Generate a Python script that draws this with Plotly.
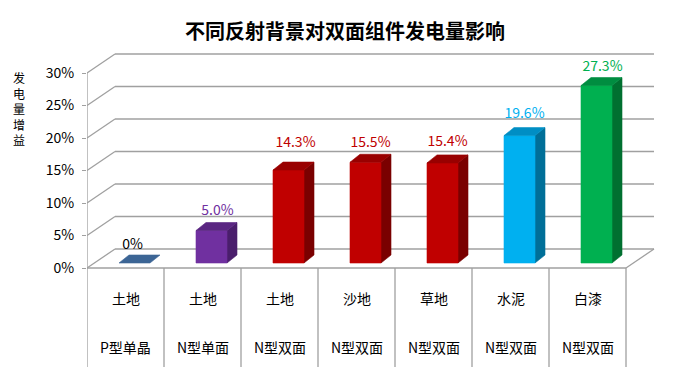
import plotly.graph_objects as go

# ---- data ----
title_text = "不同反射背景对双面组件发电量影响"
y_title_chars = ["发", "电", "量", "增", "益"]
backgrounds = ["土地", "土地", "土地", "沙地", "草地", "水泥", "白漆"]
module_types = ["P型单晶", "N型单面", "N型双面", "N型双面", "N型双面", "N型双面", "N型双面"]
gains = [0.0, 5.0, 14.3, 15.5, 15.4, 19.6, 27.3]
value_labels = ["0%", "5.0%", "14.3%", "15.5%", "15.4%", "19.6%", "27.3%"]
label_colors = ["#000000", "#7030a0", "#c00000", "#c00000", "#c00000", "#00b0f0", "#00b050"]
front_colors = ["#3c6595", "#7030a0", "#c00000", "#c00000", "#c00000", "#00b0f0", "#00b050"]
top_colors = ["#3c6595", "#5a2682", "#990000", "#990000", "#990000", "#008ec4", "#008d40"]
side_colors = ["#2c4c72", "#4a1e6c", "#7a0000", "#7a0000", "#7a0000", "#006f98", "#007030"]
y_ticks = [0, 5, 10, 15, 20, 25, 30]
y_tick_text = ["0%", "5%", "10%", "15%", "20%", "25%", "30%"]

# ---- layout / style settings ----
label_nudge_x_px = [-7, 1, 2, 0, 0, 0, 1]       # value-label horizontal nudges
label_nudge_y_px = [10, 11.5, 19, 11, 12, 13.6, 10.5]  # value-label height above bar top

W, H = 690, 387
ML, MR, MT, MB = 87, 33, 50, 15
PX_X = 77.0    # px per category
PX_Y = 6.5     # px per percent
plot_w = W - ML - MR
plot_h = H - MT - MB
zero_from_top = 218.0
y_max = zero_from_top / PX_Y
y_min = -(plot_h - zero_from_top) / PX_Y
x_max = plot_w / PX_X

n = len(gains)
DX = 28 / PX_X          # depth offset of back wall
DY = 19 / PX_Y
SX, SY = 9 / PX_X, 5 / PX_Y      # bar front-face shift
BDX, BDY = 10 / PX_X, 8 / PX_Y   # bar depth
BW = 31 / PX_X
TABLE_BOTTOM = -99 / PX_Y

GRID = "#a0a0a0"
FONT = "Microsoft YaHei, Noto Sans CJK SC, sans-serif"

fig = go.Figure()

# back wall + side wall grid lines
gx, gy = [], []
for v in y_ticks:
    gx += [DX, n + DX, None, 0, DX, None]
    gy += [v + DY, v + DY, None, v, v + DY, None]
gx += [n, n + DX, None]
gy += [0, DY, None]
fig.add_trace(go.Scatter(x=gx, y=gy, mode="lines", line=dict(color=GRID, width=1.3),
                         hoverinfo="skip", showlegend=False))

# category table lines + front value axis line
tx, ty = [0, n, None], [0, 0, None]
for i in range(n + 1):
    tx += [i, i, None]
    ty += [0, TABLE_BOTTOM, None]
tx += [0, 0]
ty += [0, y_ticks[-1]]
fig.add_trace(go.Scatter(x=tx, y=ty, mode="lines", line=dict(color=GRID, width=1.3),
                         hoverinfo="skip", showlegend=False))


def poly(xs, ys, color):
    fig.add_trace(go.Scatter(x=xs + [xs[0]], y=ys + [ys[0]], mode="lines", fill="toself",
                             fillcolor=color, line=dict(color=color, width=0.6),
                             hoverinfo="skip", showlegend=False))


# 3D-like bars
for i, v in enumerate(gains):
    x0 = i + 0.5 - BW / 2 + SX
    x1 = x0 + BW
    yb = SY
    yt = v + SY
    if v > 0:
        poly([x1, x1 + BDX, x1 + BDX, x1], [yb, yb + BDY, yt + BDY, yt], side_colors[i])
        poly([x0, x1, x1, x0], [yb, yb, yt, yt], front_colors[i])
    poly([x0, x1, x1 + BDX, x0 + BDX], [yt, yt, yt + BDY, yt + BDY], top_colors[i])

# value labels
for i, v in enumerate(gains):
    fig.add_trace(go.Scatter(
        x=[i + 0.5 + SX + BDX / 2 + label_nudge_x_px[i] / PX_X],
        y=[v + SY + BDY + label_nudge_y_px[i] / PX_Y], mode="text",
        text=[value_labels[i]], textposition="middle center",
        textfont=dict(size=14, color=label_colors[i], family=FONT),
        hoverinfo="skip", showlegend=False))

annotations = []
for i in range(n):
    annotations.append(dict(x=i + 0.5, y=-30 / PX_Y, xref="x", yref="y", text=backgrounds[i],
                            showarrow=False, font=dict(size=14, color="#000", family=FONT)))
    annotations.append(dict(x=i + 0.5, y=-79 / PX_Y, xref="x", yref="y", text=module_types[i],
                            showarrow=False, font=dict(size=14, color="#000", family=FONT)))
# vertical y-axis title, stacked characters
annotations.append(dict(x=(19 - ML) / plot_w, y=(H - MB - 109) / plot_h,
                        xref="paper", yref="paper", xanchor="center", yanchor="middle",
                        text="<br>".join(y_title_chars), showarrow=False,
                        font=dict(size=12, color="#000", family=FONT)))

fig.update_layout(
    width=W, height=H,
    margin=dict(l=ML, r=MR, t=MT, b=MB),
    paper_bgcolor="white", plot_bgcolor="white",
    title=dict(text="<b>" + title_text + "</b>", x=0.5, xanchor="center",
               y=1 - 32 / H, yanchor="middle", yref="container",
               font=dict(size=20, color="#000", family=FONT)),
    xaxis=dict(range=[0, x_max], visible=False, fixedrange=True),
    yaxis=dict(range=[y_min, y_max], tickvals=y_ticks, ticktext=y_tick_text,
               showgrid=False, zeroline=False, showline=False,
               ticks="outside", ticklen=4, tickcolor=GRID, ticklabelstandoff=5,
               tickfont=dict(size=14, color="#000", family=FONT), fixedrange=True),
    annotations=annotations,
    showlegend=False,
)

fig.write_html("out.html", config={"displayModeBar": False},
               post_script="document.body.style.margin='0';")
